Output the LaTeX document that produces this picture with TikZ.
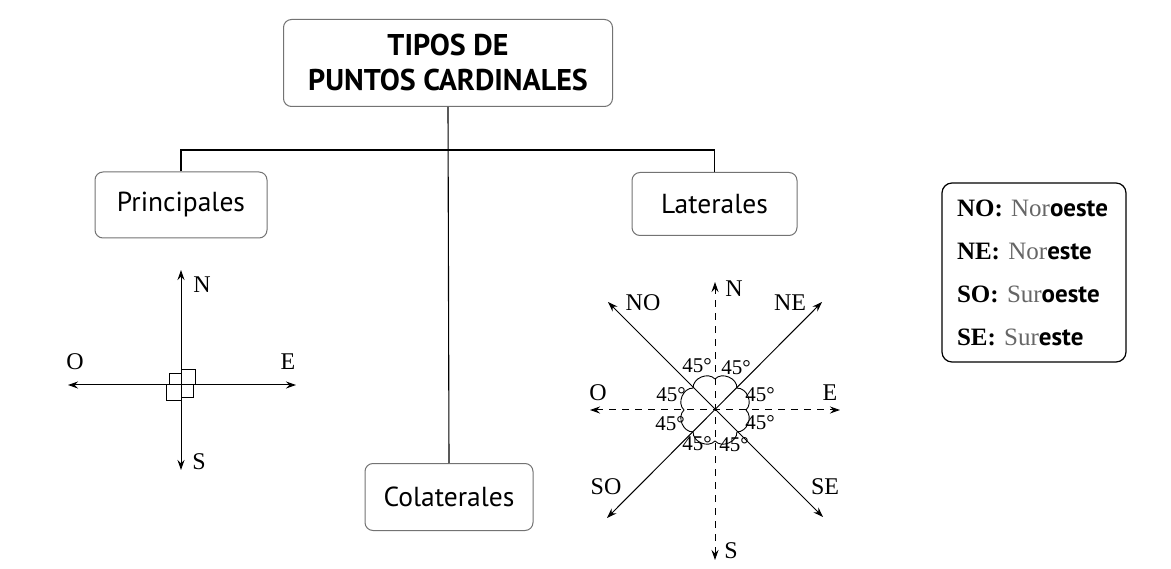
\documentclass[tikz,border=0pt]{standalone}
\usepackage{fontspec}
\setmainfont{Liberation Serif}
\setsansfont{PT Sans}
\usetikzlibrary{arrows.meta,calc}
\begin{document}
\begin{tikzpicture}[x=1pt,y=-1pt,
  cbox/.style={draw=black!55, line width=1pt, rounded corners=8pt, fill=white,
    font=\sffamily\fontsize{27.5}{30}\selectfont, inner sep=0pt},
  link/.style={line width=1.1pt},
  arr/.style={line width=1pt, {Stealth[length=10pt,width=7pt]}-{Stealth[length=10pt,width=7pt]}},
  dsh/.style={arr, dash pattern=on 7pt off 6pt},
  lbl/.style={font=\fontsize{24}{26}\selectfont, inner sep=0pt},
  ang/.style={font=\fontsize{21}{22}\selectfont, inner sep=0pt},
  leg/.style={font=\fontsize{25}{43}\selectfont}
]
\useasboundingbox (0,0) rectangle (1171,569);
% boxes
\node[cbox, minimum width=329pt, minimum height=87pt, align=center,
  font=\sffamily\bfseries\fontsize{30}{35}\selectfont] (title) at (448,63) {TIPOS DE\\PUNTOS CARDINALES};
\node[cbox, minimum width=172pt, minimum height=66pt] (prin) at (181,205) {Principales};
\node[cbox, minimum width=165pt, minimum height=63pt] (lat) at (714.5,204) {Laterales};
\node[cbox, minimum width=168pt, minimum height=67pt] (col) at (449,497) {Colaterales};
\node[draw, line width=1.2pt, rounded corners=10pt, minimum width=184pt, minimum height=179pt,
  text width=168pt, align=left, inner xsep=8pt, leg] (legend) at (1034,272.5)
  {\hspace*{7pt}\textbf{NO:} {\color{black!60}Nor}{\sffamily\bfseries oeste}\\
   \hspace*{7pt}\textbf{NE:} {\color{black!60}Nor}{\sffamily\bfseries este}\\
   \hspace*{7pt}\textbf{SO:} {\color{black!60}Sur}{\sffamily\bfseries oeste}\\
   \hspace*{7pt}\textbf{SE:} {\color{black!60}Sur}{\sffamily\bfseries este}};
% connectors
\coordinate (hub) at (449,150);
\draw[link] (title.south) -- (col.north);
\draw[link] (prin.north) |- (hub) -| (lat.north);
% principales compass
\coordinate (pc) at (181,385);
\coordinate (pN) at (181,270);
\coordinate (pS) at (181,470);
\coordinate (pO) at (68,385);
\coordinate (pE) at (296,385);
\draw[arr] (pS) -- (pN);
\draw[arr] (pO) -- (pE);
\draw[line width=1pt] ($(pc)+(0,-11)$) -| ($(pc)+(-12,0)$);
\draw[line width=1pt] ($(pc)+(0,-15)$) -| ($(pc)+(14,0)$);
\draw[line width=1pt] ($(pc)+(0,16)$) -| ($(pc)+(-15,0)$);
\draw[line width=1pt] ($(pc)+(0,13)$) -| ($(pc)+(12,0)$);
\node[lbl] (pNl) at (202,285) {N};
\node[lbl] (pOl) at (75,362) {O};
\node[lbl] (pEl) at (288,362) {E};
\node[lbl] (pSl) at (199,462) {S};
% laterales compass
\coordinate (lc) at (715,410);
\coordinate (lN) at (715,282);
\coordinate (lS) at (715,560);
\coordinate (lO) at (590,410);
\coordinate (lE) at (840,410);
\coordinate (lNO) at (608,302);
\coordinate (lSE) at (823,517);
\coordinate (lNE) at (822,302);
\coordinate (lSO) at (607,518);
\draw[dsh] (lS) -- (lN);
\draw[dsh] (lO) -- (lE);
\draw[arr] (lSE) -- (lNO);
\draw[arr] (lSO) -- (lNE);
\begin{scope}[shift={(lc)}, y=1pt]
  \foreach \a in {0,45,...,315}
    \draw[line width=0.9pt] (\a:31) .. controls ({\a+10}:39) and ({\a+35}:39) .. ({\a+45}:31);
\end{scope}
\node[lbl] (lNl) at (734,289) {N};
\node[lbl] (lNOl) at (643,303) {NO};
\node[lbl] (lNEl) at (790,303) {NE};
\node[lbl] (lOl) at (598,393) {O};
\node[lbl] (lEl) at (830,393) {E};
\node[lbl] (lSOl) at (606,487) {SO};
\node[lbl] (lSEl) at (825,487) {SE};
\node[lbl] (lSl) at (731,551) {S};
\node[ang] (a1) at (697,366) {45°};
\node[ang] (a2) at (736,368) {45°};
\node[ang] (a3) at (671,395) {45°};
\node[ang] (a4) at (760,395) {45°};
\node[ang] (a5) at (670,424) {45°};
\node[ang] (a6) at (760,423) {45°};
\node[ang] (a7) at (697,444) {45°};
\node[ang] (a8) at (734,445) {45°};
\end{tikzpicture}
\end{document}
